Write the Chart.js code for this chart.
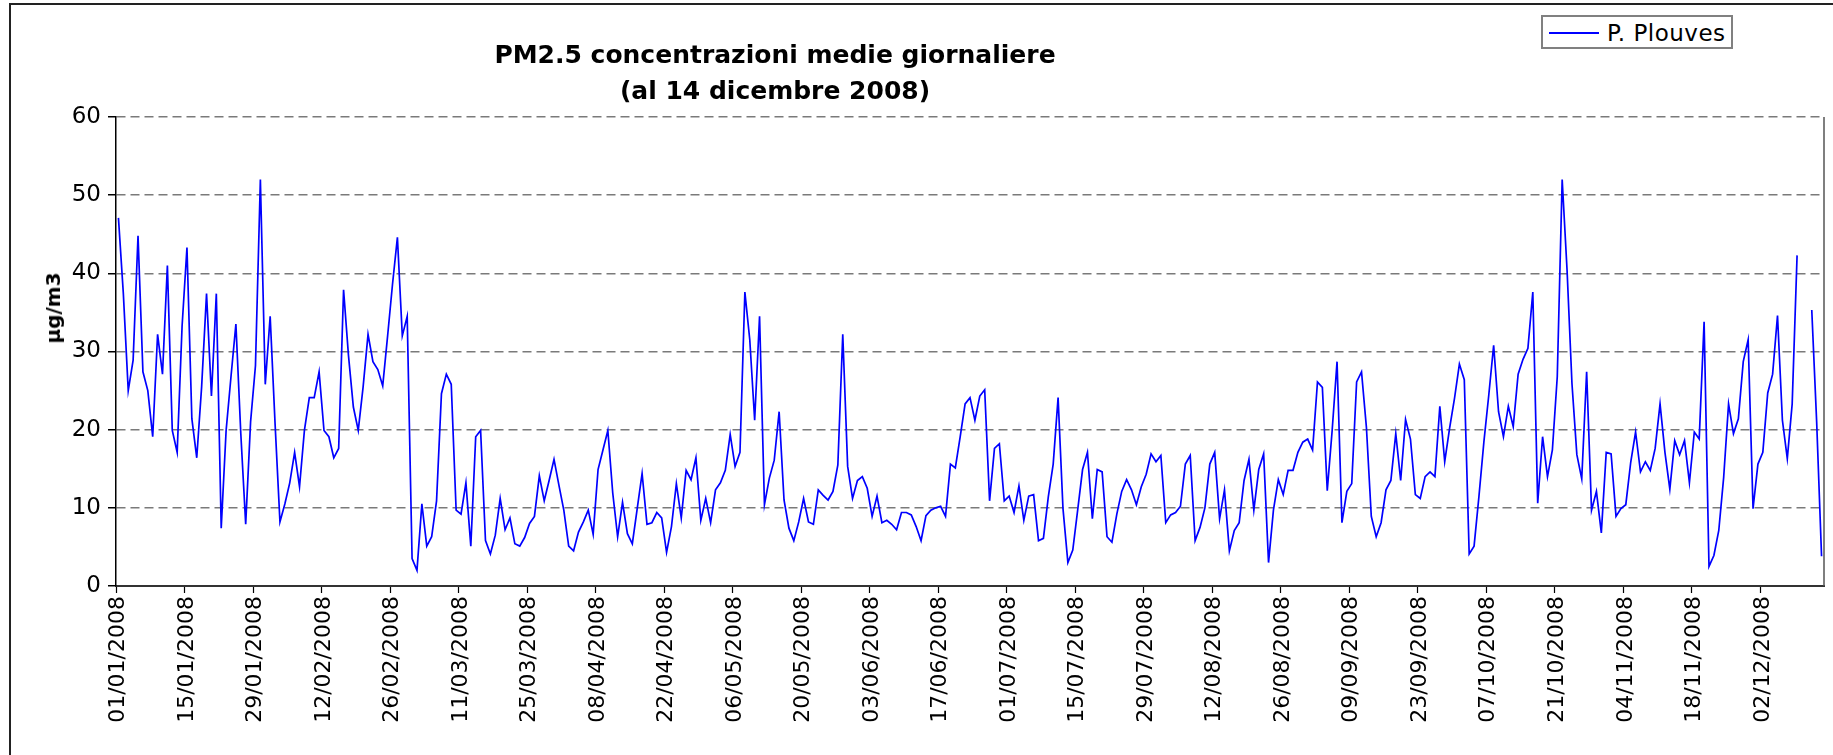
<!DOCTYPE html>
<html>
<head>
<meta charset="utf-8">
<script src="https://cdn.jsdelivr.net/npm/chart.js@4.4.1/dist/chart.umd.min.js"></script>
<style>
  html, body { margin: 0; padding: 0; background: #fff; }
  #wrap { position: relative; width: 1833px; height: 755px; overflow: hidden; font-family: "DejaVu Sans", Verdana, sans-serif; }
  #frame { position: absolute; left: 9px; top: 3px; width: 1900px; height: 800px; border-left: 2px solid #222; border-top: 2px solid #222; }
  #chart { position: absolute; left: 0; top: 0; }
  #title { position: absolute; left: 425px; top: 37px; width: 700px; text-align: center; font-weight: bold; font-size: 25px; line-height: 36px; color: #000; }
  #ytitle { position: absolute; left: 53px; top: 308px; transform: translate(-50%, -50%) rotate(-90deg); font-weight: bold; font-size: 20px; color: #000; white-space: nowrap; }
  #legend { position: absolute; left: 1541px; top: 15px; width: 192px; height: 34px; border: 2px solid #808080; box-sizing: border-box; background: #fff; }
  #legend .key { position: absolute; left: 6px; top: 15px; width: 50px; height: 2px; }
  #legend .txt { position: absolute; left: 64px; top: 0; line-height: 32px; font-size: 23px; letter-spacing: 0.5px; color: #000; white-space: nowrap; }
</style>
</head>
<body>
<div id="wrap">
  <div id="frame"></div>
  <canvas id="chart" width="1833" height="755"></canvas>
  <div id="title">PM2.5 concentrazioni medie giornaliere<br>(al 14 dicembre 2008)</div>
  <div id="ytitle">µg/m3</div>
  <div id="legend"></div>
</div>
<script>
// daily values 01/01/2008 .. 14/12/2008 (349 days)
const seriesName = 'P. Plouves';
const startDate = '2008-01-01';
const dayCount = 349;

const pm25 = [
  47.1, 37.4, 25.0, 28.9, 44.8, 27.4, 25.0, 19.1, 32.2, 27.1,
  41.0, 19.9, 17.1, 33.2, 43.3, 21.4, 16.4, 25.5, 37.4, 24.3,
  37.4, 7.4, 19.9, 26.8, 33.5, 19.5, 7.9, 21.0, 28.2, 52.0,
  25.8, 34.5, 20.8, 8.2, 10.5, 13.2, 17.1, 12.7, 19.9, 24.1,
  24.1, 27.4, 19.9, 19.1, 16.4, 17.6, 37.9, 29.5, 22.9, 19.9,
  25.5, 32.2, 28.7, 27.7, 25.6, 32.0, 38.6, 44.6, 32.0, 34.5,
  3.5, 2.0, 10.5, 5.1, 6.3, 10.9, 24.6, 27.1, 25.8, 9.7,
  9.2, 13.2, 5.1, 19.1, 19.9, 5.8, 4.1, 6.5, 11.2, 7.2,
  8.7, 5.4, 5.1, 6.2, 8.0, 8.9, 14.1, 10.9, 13.5, 16.2,
  12.9, 9.7, 5.1, 4.5, 6.9, 8.2, 9.7, 6.6, 14.9, 17.4,
  19.9, 11.9, 6.3, 10.7, 6.7, 5.4, 9.9, 14.4, 7.9, 8.1,
  9.4, 8.7, 4.3, 7.6, 13.1, 8.7, 14.8, 13.6, 16.4, 8.4,
  11.2, 8.1, 12.3, 13.2, 14.8, 19.4, 15.3, 17.1, 37.6, 31.5,
  21.2, 34.5, 10.4, 13.8, 16.1, 22.3, 11.0, 7.4, 5.8, 8.2,
  11.2, 8.2, 7.9, 12.3, 11.6, 11.0, 12.1, 15.5, 32.2, 15.3,
  11.2, 13.5, 14.0, 12.5, 8.9, 11.5, 8.1, 8.4, 7.9, 7.2,
  9.4, 9.4, 9.1, 7.6, 5.8, 9.0, 9.7, 10.0, 10.2, 8.9,
  15.6, 15.1, 19.1, 23.3, 24.1, 21.2, 24.3, 25.1, 10.9, 17.6,
  18.2, 10.9, 11.5, 9.4, 12.8, 8.4, 11.5, 11.7, 5.8, 6.1,
  11.4, 15.6, 24.1, 9.9, 3.0, 4.6, 9.7, 14.9, 17.1, 8.6,
  14.9, 14.6, 6.3, 5.6, 9.2, 12.1, 13.6, 12.3, 10.4, 12.7,
  14.3, 16.9, 15.9, 16.7, 8.1, 9.1, 9.4, 10.2, 15.6, 16.7,
  5.8, 7.5, 10.0, 15.6, 17.1, 8.6, 12.3, 4.5, 7.1, 8.1,
  13.5, 16.2, 9.7, 14.9, 16.9, 3.0, 9.7, 13.6, 11.7, 14.8,
  14.8, 17.1, 18.4, 18.8, 17.4, 26.1, 25.4, 12.2, 19.9, 28.7,
  8.1, 12.1, 13.1, 26.1, 27.4, 20.3, 8.9, 6.3, 8.1, 12.3,
  13.5, 19.5, 13.5, 21.3, 18.8, 11.7, 11.2, 14.0, 14.6, 14.0,
  23.0, 15.9, 20.2, 24.0, 28.4, 26.4, 4.1, 5.1, 11.5, 18.4,
  24.4, 30.8, 22.3, 19.1, 23.0, 20.4, 27.1, 29.0, 30.4, 37.6,
  10.6, 19.1, 14.0, 17.4, 26.8, 52.0, 40.4, 25.9, 16.8, 13.7,
  27.4, 9.7, 12.1, 6.8, 17.1, 16.9, 8.9, 9.9, 10.4, 15.8,
  19.7, 14.6, 15.9, 14.8, 17.6, 23.3, 17.1, 12.4, 18.6, 16.8,
  18.6, 13.2, 19.7, 18.8, 33.8, 2.5, 3.9, 7.1, 13.9, 23.3,
  19.5, 21.4, 28.7, 31.5, 9.9, 15.6, 17.1, 24.7, 27.1, 34.6,
  21.2, 16.3, 23.3, 42.3, null, null, 35.3, 21.0, 3.8
];

const tickLabels = [
  '01/01/2008', '15/01/2008', '29/01/2008', '12/02/2008', '26/02/2008',
  '11/03/2008', '25/03/2008', '08/04/2008', '22/04/2008', '06/05/2008',
  '20/05/2008', '03/06/2008', '17/06/2008', '01/07/2008', '15/07/2008',
  '29/07/2008', '12/08/2008', '26/08/2008', '09/09/2008', '23/09/2008',
  '07/10/2008', '21/10/2008', '04/11/2008', '18/11/2008', '02/12/2008'
];

const yTicks = [0, 10, 20, 30, 40, 50, 60];

// build the day categories
function buildDays(start, n) {
  const out = [];
  const d = new Date(start + 'T12:00:00');
  for (let i = 0; i < n; i++) {
    const dd = String(d.getDate()).padStart(2, '0');
    const mm = String(d.getMonth() + 1).padStart(2, '0');
    out.push(dd + '/' + mm + '/' + d.getFullYear());
    d.setDate(d.getDate() + 1);
  }
  return out;
}
const days = buildDays(startDate, dayCount);

const lineColor = '#0000FF';
const fontFamily = '"DejaVu Sans", Verdana, sans-serif';

// right border of the plot area
const plotBorder = {
  id: 'plotBorder',
  afterDraw(chart) {
    const a = chart.chartArea;
    const ctx = chart.ctx;
    ctx.save();
    ctx.strokeStyle = '#555';
    ctx.lineWidth = 1.5;
    ctx.beginPath();
    ctx.moveTo(a.right, a.top);
    ctx.lineTo(a.right, a.bottom);
    ctx.stroke();
    ctx.restore();
  }
};

const chart = new Chart(document.getElementById('chart').getContext('2d'), {
  type: 'line',
  data: {
    labels: days,
    datasets: [{
      label: seriesName,
      data: pm25,
      borderColor: lineColor,
      borderWidth: 1.7,
      pointRadius: 0,
      tension: 0,
      spanGaps: false,
      fill: false
    }]
  },
  options: {
    responsive: false,
    devicePixelRatio: 1,
    animation: false,
    layout: { padding: { left: 0, top: 117, right: 9, bottom: 0 } },
    plugins: {
      legend: { display: false },
      title: { display: false },
      tooltip: { enabled: false }
    },
    scales: {
      x: {
        type: 'category',
        offset: true,
        grid: {
          offset: true,
          drawOnChartArea: false,
          drawTicks: true,
          tickLength: 7,
          tickWidth: 1.2,
          tickColor: ctx => (ctx.index % 14 === 0 && ctx.index < dayCount) ? '#000' : 'transparent'
        },
        border: { display: true, color: '#333', width: 2 },
        ticks: {
          autoSkip: false,
          minRotation: 90,
          maxRotation: 90,
          padding: 3,
          color: '#000',
          font: { family: fontFamily, size: 22 },
          callback: function (value) {
            const lab = this.getLabelForValue(value);
            return tickLabels.includes(lab) ? lab : '';
          }
        },
        afterFit(scale) {
          scale.height = 169;
          scale.paddingLeft = 0;
          scale.paddingRight = 0;
        }
      },
      y: {
        min: 0,
        max: 60,
        afterBuildTicks(scale) {
          scale.ticks = yTicks.map(v => ({ value: v }));
        },
        grid: {
          color: ctx => (ctx.tick && ctx.tick.value === 0) ? 'transparent' : '#7a7a7a',
          lineWidth: 1.5,
          tickColor: '#000',
          tickLength: 8,
          drawTicks: true
        },
        border: { display: true, color: '#000', width: 1.5, dash: [9, 5] },
        ticks: {
          padding: 7,
          color: '#000',
          font: { family: fontFamily, size: 23 }
        },
        afterFit(scale) {
          scale.width = 116;
          scale.paddingTop = 0;
          scale.paddingBottom = 0;
        }
      }
    }
  },
  plugins: [plotBorder]
});

// legend from the dataset
const lg = document.getElementById('legend');
chart.data.datasets.forEach(ds => {
  const key = document.createElement('div');
  key.className = 'key';
  key.style.background = ds.borderColor;
  const txt = document.createElement('div');
  txt.className = 'txt';
  txt.textContent = ds.label;
  lg.appendChild(key);
  lg.appendChild(txt);
});
</script>
</body>
</html>
